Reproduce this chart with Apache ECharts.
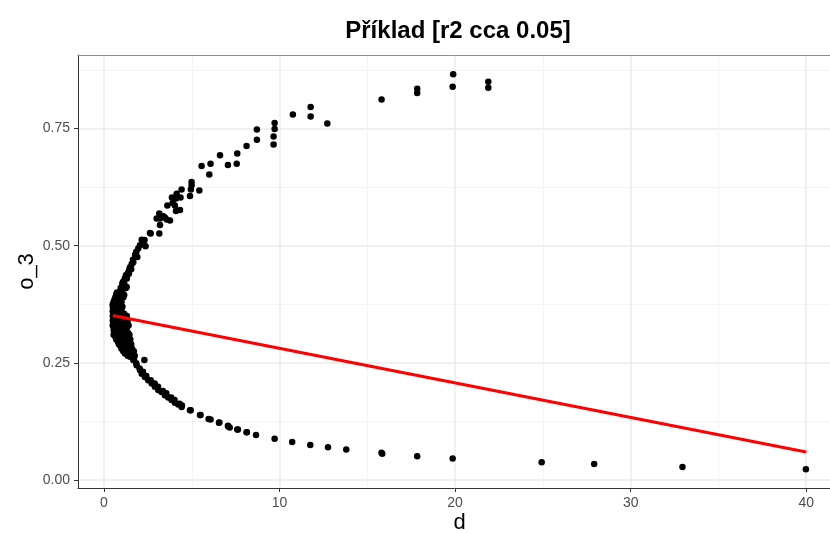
<!DOCTYPE html>
<html><head><meta charset="utf-8">
<script src="https://cdn.jsdelivr.net/npm/echarts@6/dist/echarts.min.js"></script>
<style>html,body{margin:0;padding:0;background:#fff}#c{width:830px;height:534px}</style>
</head><body><div id="c"></div>
<script>
// ---- tick positions ----
const xMajorTicks = [0, 10, 20, 30, 40];
const xMinorTicks = [5, 15, 25, 35];
const yMajorTicks = [0, 0.25, 0.5, 0.75];
const yMinorTicks = [0.125, 0.375, 0.625, 0.875];

// ---- data: [d, o_3] ----
const upperBranch = [
  [0.72,0.398],[0.91,0.401],[1.06,0.416],[1.14,0.412],[1.29,0.412],[1.09,0.423],[1.19,0.430],
  [1.25,0.437],[1.39,0.444],[1.48,0.454],[1.58,0.461],[1.67,0.465],[1.65,0.470],[1.77,0.480],
  [1.82,0.484],[1.84,0.487],[1.90,0.476],[1.95,0.494],[2.05,0.501],[2.24,0.506],[2.15,0.513],
  [2.31,0.512],[2.37,0.499],[2.62,0.527],[2.66,0.526],[3.15,0.526],[3.19,0.544],[3.00,0.558],
  [3.15,0.569],[3.19,0.558],[3.38,0.563],[3.47,0.560],[3.57,0.556],[3.76,0.554],[3.61,0.586],
  [3.87,0.603],[3.91,0.591],[4.04,0.586],[4.10,0.574],[4.33,0.576],[4.10,0.601],[4.14,0.611],
  [4.36,0.603],[4.42,0.620],[4.90,0.606],[4.95,0.620],[4.99,0.629],[4.99,0.636],[5.43,0.618],
  [5.56,0.670],[6.00,0.652],[6.07,0.675],[6.61,0.693],[7.06,0.672],[7.56,0.675],[7.59,0.697],
  [8.12,0.713],[8.71,0.726],[8.71,0.748],[9.66,0.716],[9.66,0.733],[9.72,0.749],[9.72,0.762],
  [10.76,0.780],[11.77,0.776],[11.77,0.796],[12.72,0.761],[15.81,0.812],[17.84,0.826],
  [17.84,0.835],[19.86,0.839],[19.89,0.866],[21.89,0.837],[21.89,0.850]
];
const coreCluster = [
  [1.45,0.45],[1.55,0.45],[1.35,0.44],[1.42,0.44],[1.2,0.43],[1.3,0.43],[1.05,0.42],[1.15,0.42],
  [0.95,0.41],[1.1,0.41],[1.25,0.41],[0.75,0.40],[0.9,0.40],[1.05,0.40],
  [0.7,0.395],[0.85,0.395],[1.0,0.395],[1.15,0.395],[0.65,0.39],[0.8,0.39],[0.95,0.39],[1.1,0.39],
  [0.6,0.385],[0.75,0.385],[0.9,0.385],[0.55,0.38],[0.7,0.38],[0.85,0.38],[1.0,0.38],
  [0.5,0.375],[0.65,0.375],[0.8,0.375],[0.95,0.375],[0.5,0.37],[0.6,0.37],[0.75,0.37],[0.9,0.37],[1.05,0.37],
  [0.55,0.365],[0.7,0.365],[0.85,0.365],[0.5,0.36],[0.62,0.36],[0.8,0.36],[1.0,0.36],
  [0.55,0.355],[0.75,0.355],[0.95,0.355],[1.15,0.355],[0.5,0.35],[0.7,0.35],[0.9,0.35],[1.1,0.35],[1.3,0.35],
  [0.6,0.345],[0.8,0.345],[1.0,0.345],[1.2,0.345],[0.5,0.34],[0.75,0.34],[0.95,0.34],[1.15,0.34],[1.35,0.34],
  [0.6,0.335],[0.85,0.335],[1.05,0.335],[1.25,0.335],[0.5,0.33],[0.7,0.33],[1.0,0.33],[1.2,0.33],[1.4,0.33],
  [0.6,0.325],[0.9,0.325],[1.1,0.325],[1.3,0.325],[0.55,0.32],[0.8,0.32],[1.05,0.32],[1.25,0.32],
  [0.65,0.315],[0.95,0.315],[1.15,0.315],[1.35,0.315],[0.55,0.31],[0.8,0.31],[1.1,0.31],[1.3,0.31],[1.45,0.31],
  [0.65,0.305],[0.95,0.305],[1.2,0.305],[1.4,0.305],[0.7,0.30],[0.85,0.30],[1.05,0.30],[1.25,0.30],[1.5,0.30],
  [0.8,0.295],[1.0,0.295],[1.35,0.295],[0.85,0.29],[1.15,0.29],[1.4,0.29],[1.55,0.29],
  [0.95,0.285],[1.25,0.285],[1.5,0.285],[1.0,0.28],[1.2,0.28],[1.35,0.28],[1.6,0.28],
  [1.1,0.275],[1.45,0.275],[1.7,0.275],[1.2,0.27],[1.55,0.27],[1.35,0.265],[1.75,0.265]
];
const lowerBranch = [
  [1.10,0.277],[1.29,0.270],[1.37,0.270],[1.48,0.263],[1.56,0.264],[1.67,0.256],[1.71,0.257],
  [1.84,0.249],[1.86,0.245],[2.03,0.238],[2.05,0.235],[2.15,0.227],[2.22,0.231],[2.30,0.256],
  [2.33,0.220],[2.41,0.222],[2.52,0.213],[2.66,0.213],[2.72,0.206],[2.89,0.206],[2.90,0.199],
  [3.08,0.199],[3.09,0.192],[3.28,0.188],[3.36,0.190],[3.47,0.181],[3.55,0.185],[3.66,0.176],
  [3.83,0.176],[3.85,0.171],[4.02,0.171],[4.04,0.165],[4.23,0.161],[4.31,0.163],[4.42,0.156],
  [4.44,0.159],[4.90,0.149],[4.94,0.149],[5.47,0.139],[5.50,0.139],[5.96,0.130],[6.07,0.129],
  [6.55,0.122],[6.57,0.123],[7.06,0.116],[7.08,0.114],[7.16,0.112],[7.59,0.108],[7.63,0.108],
  [8.12,0.102],[8.14,0.102],[8.66,0.096],[9.72,0.088],[10.72,0.081],[11.75,0.075],[12.76,0.070],
  [13.80,0.065],[15.81,0.058],[15.85,0.056],[17.84,0.051],[19.86,0.046],[24.93,0.038],
  [27.92,0.034],[32.95,0.028],[39.98,0.023]
];
const fitD = [0.5, 40];
const fitO3 = [0.351, 0.060];

const X_MIN = -1.48, X_MAX = 41.98, Y_MIN = -0.017, Y_MAX = 0.907;
const FONT = 'Liberation Sans';

const chart = echarts.init(document.getElementById('c'), null, {renderer: 'canvas'});
const scatter = (data) => ({type: 'scatter', data, symbolSize: 6.5,
  itemStyle: {color: '#000', opacity: 1}, xAxisIndex: 0, yAxisIndex: 0, z: 3, silent: true});

chart.setOption({
  animation: false,
  backgroundColor: '#fff',
  graphic: [{
    type: 'text', x: 458, y: 31,
    style: {text: 'Příklad [r2 cca 0.05]', fontSize: 24, fontWeight: 'bold', fontFamily: FONT,
      fill: '#000', align: 'center', verticalAlign: 'middle', textAlign: 'center', textVerticalAlign: 'middle'}
  }],
  grid: {left: 78, top: 55, width: 763, height: 433, show: false,
    outerBoundsMode: 'none', containLabel: false},
  xAxis: [{
    type: 'value', min: X_MIN, max: X_MAX, position: 'bottom',
    axisLine: {show: true, onZero: false, lineStyle: {color: '#333', width: 1}},
    axisTick: {show: true, length: 4, customValues: xMajorTicks, lineStyle: {color: '#333'}},
    axisLabel: {customValues: xMajorTicks, color: '#4d4d4d', fontSize: 14, margin: 8, fontFamily: FONT},
    splitLine: {show: true, lineStyle: {color: '#ebebeb', width: 1.5}},
    name: 'd', nameLocation: 'middle', nameGap: 24, nameMoveOverlap: false,
    nameTextStyle: {fontSize: 22, color: '#000', fontFamily: FONT}
  }, {
    type: 'value', min: X_MIN, max: X_MAX, position: 'top',
    axisLine: {show: true, onZero: false, lineStyle: {color: '#8c8c8c', width: 1}},
    axisTick: {show: false, customValues: xMinorTicks},
    axisLabel: {show: false, customValues: xMinorTicks},
    splitLine: {show: true, lineStyle: {color: '#f4f4f4', width: 1}}
  }],
  yAxis: [{
    type: 'value', min: Y_MIN, max: Y_MAX, position: 'left',
    axisLine: {show: true, onZero: false, lineStyle: {color: '#333', width: 1}},
    axisTick: {show: true, length: 4, customValues: yMajorTicks, lineStyle: {color: '#333'}},
    axisLabel: {customValues: yMajorTicks, color: '#4d4d4d', fontSize: 14, margin: 8, fontFamily: FONT,
      formatter: v => v.toFixed(2)},
    splitLine: {show: true, lineStyle: {color: '#ebebeb', width: 1.5}},
    name: 'o_3', nameLocation: 'middle', nameGap: 40, nameRotate: 90, nameMoveOverlap: false,
    nameTextStyle: {fontSize: 22, color: '#000', fontFamily: FONT}
  }, {
    type: 'value', min: Y_MIN, max: Y_MAX, position: 'right',
    axisLine: {show: false}, axisTick: {show: false, customValues: yMinorTicks},
    axisLabel: {show: false, customValues: yMinorTicks},
    splitLine: {show: true, lineStyle: {color: '#f4f4f4', width: 1}}
  }],
  series: [
    scatter(upperBranch),
    scatter(coreCluster),
    scatter(lowerBranch),
    {type: 'line', data: fitD.map((d, i) => [d, fitO3[i]]), symbol: 'none', silent: true,
      lineStyle: {color: '#ff0000', width: 3}, z: 4, xAxisIndex: 0, yAxisIndex: 0}
  ]
});
</script></body></html>
